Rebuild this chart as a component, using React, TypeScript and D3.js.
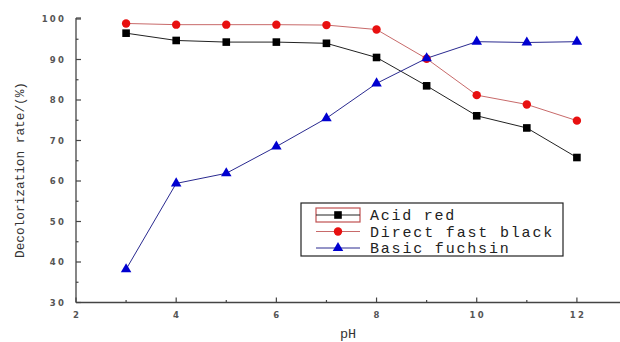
import React from 'react';
import * as d3 from 'd3';

// pH values and decolorization rates (%)
const phValues = [3, 4, 5, 6, 7, 8, 9, 10, 11, 12];
const acidRed = [96.5, 94.7, 94.3, 94.3, 94.0, 90.5, 83.5, 76.1, 73.1, 65.8];
const directFastBlack = [98.9, 98.6, 98.6, 98.6, 98.5, 97.4, 90.2, 81.2, 78.9, 74.9];
const basicFuchsin = [38.2, 59.4, 61.9, 68.5, 75.5, 84.1, 90.3, 94.4, 94.2, 94.4];
const xTicks = [2, 4, 6, 8, 10, 12];
const yTicks = [30, 40, 50, 60, 70, 80, 90, 100];
const seriesNames = ['Acid red', 'Direct fast black', 'Basic fuchsin'];

const W = 620;
const H = 342;
const mono = "'Liberation Mono', 'DejaVu Sans Mono', monospace";

export default function App() {
  const x = d3.scaleLinear().domain([2, 13]).range([76, 627]);
  const y = d3.scaleLinear().domain([30, 100]).range([302.5, 19]);

  const series = [
    { name: seriesNames[0], values: acidRed, line: '#222', fill: '#000', shape: 'square' },
    { name: seriesNames[1], values: directFastBlack, line: '#c86a6a', fill: '#e81010', shape: 'circle' },
    { name: seriesNames[2], values: basicFuchsin, line: '#2a2a90', fill: '#0000d0', shape: 'triangle' },
  ];

  const line = d3.line<number>().x((_, i) => x(phValues[i])).y(d => y(d));

  const marker = (shape: string, cx: number, cy: number, fill: string, key: string | number) => {
    if (shape === 'square') return <rect key={key} x={cx - 3.8} y={cy - 3.8} width={7.6} height={7.6} fill={fill} />;
    if (shape === 'circle') return <circle key={key} cx={cx} cy={cy} r={4.2} fill={fill} />;
    const tri = d3.symbol(d3.symbolTriangle, 48)();
    return <path key={key} d={tri || ''} transform={`translate(${cx},${cy})`} fill={fill} />;
  };

  const minorX = d3.range(3, 13, 2);
  const minorY = d3.range(35, 100, 10);

  const legX = 301, legY = 203;
  return (
    <svg width={W} height={H} style={{ position: 'absolute', left: 0, top: 0, background: '#fff' }}>
      {/* axes */}
      <line x1={x(2)} x2={W} y1={y(30)} y2={y(30)} stroke="#444" strokeWidth={1.3} />
      <line x1={x(2)} x2={x(2)} y1={y(30)} y2={y(100) - 1} stroke="#444" strokeWidth={1.3} />
      <line x1={x(2)} x2={x(2) + 5} y1={y(100) - 1} y2={y(100) - 1} stroke="#444" strokeWidth={1.2} />
      {xTicks.map(t => (
        <g key={'xt' + t}>
          <line x1={x(t)} x2={x(t)} y1={y(30)} y2={y(30) - 5} stroke="#444" strokeWidth={1.2} />
          <text x={x(t) + 1} y={318} textAnchor="middle" fontFamily="'DejaVu Sans', sans-serif" fontWeight="bold"
            fontSize={8.5} letterSpacing={2.2} fill="#555">{t}</text>
        </g>
      ))}
      {minorX.map(t => (
        <line key={'xm' + t} x1={x(t)} x2={x(t)} y1={y(30)} y2={y(30) - 2.5} stroke="#444" strokeWidth={1.2} />
      ))}
      {yTicks.map(t => (
        <g key={'yt' + t}>
          <line x1={x(2)} x2={x(2) + 5} y1={y(t)} y2={y(t)} stroke="#444" strokeWidth={1.2} />
          <text x={66} y={y(t) + 3} textAnchor="end" fontFamily="'DejaVu Sans', sans-serif" fontWeight="bold"
            fontSize={8.5} letterSpacing={2.2} fill="#555">{t}</text>
        </g>
      ))}
      {minorY.map(t => (
        <line key={'ym' + t} x1={x(2)} x2={x(2) + 2.5} y1={y(t)} y2={y(t)} stroke="#444" strokeWidth={1.2} />
      ))}

      {/* axis titles */}
      <text transform="translate(24,170) rotate(-90)" textAnchor="middle" fontFamily={mono}
        fontSize={12.5} textLength={176} lengthAdjust="spacingAndGlyphs" fill="#333">Decolorization rate/(%)</text>
      <text x={348} y={338} textAnchor="middle" fontFamily={mono} fontSize={13.5} fill="#333">pH</text>

      {/* series */}
      {series.map(s => (
        <g key={s.name}>
          <path d={line(s.values) || ''} fill="none" stroke={s.line} strokeWidth={1} />
          {s.values.map((v, i) => marker(s.shape, x(phValues[i]), y(v), s.fill, i))}
        </g>
      ))}

      {/* legend */}
      <rect x={legX} y={legY} width={262} height={53} fill="#fff" stroke="#222" strokeWidth={1.2} />
      {series.map((s, i) => {
        const cy = legY + 12 + i * 16.5;
        return (
          <g key={'lg' + s.name}>
            {i === 0 && <rect x={316} y={cy - 7} width={44} height={14} fill="none" stroke="#c05050" strokeWidth={1.2} />}
            <line x1={316} x2={360} y1={cy} y2={cy} stroke={s.line} strokeWidth={1} />
            {marker(s.shape, 338, cy, s.fill, 'm' + i)}
            <text x={370} y={cy + 5} fontFamily={mono} fontSize={15}
              textLength={s.name.length * 10.9 - 3} lengthAdjust="spacing" fill="#222">{s.name}</text>
          </g>
        );
      })}
    </svg>
  );
}
